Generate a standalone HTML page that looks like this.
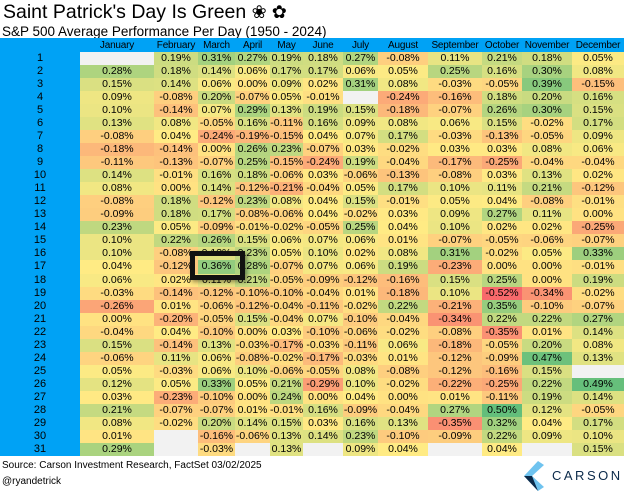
<!DOCTYPE html>
<html><head><meta charset="utf-8"><style>
body{margin:0;width:624px;height:492px;background:#fff;font-family:"Liberation Sans",Arial,sans-serif;position:relative;overflow:hidden}
.t{position:absolute;left:3px;top:1px;font-size:19.5px;color:#000;white-space:nowrap}
.s{position:absolute;left:2px;top:24px;font-size:13.5px;white-space:nowrap}
.c{position:absolute;font-size:10.5px;text-align:center;line-height:13px;height:13px;color:#000;white-space:nowrap}
.f{position:absolute;left:2px;font-size:10px;white-space:nowrap}
</style></head><body>
<div class="t">Saint Patrick's Day Is Green <span style="font-size:18px">&#10048; &#10047;</span></div>
<div class="s">S&amp;P 500 Average Performance Per Day (1950 - 2024)</div>
<div style="position:absolute;left:0;top:38px;width:624px;height:14px;background:#00a2f5"></div>
<div style="position:absolute;left:0;top:38px;width:80px;height:418px;background:#00a2f5"></div>
<div id="g"></div>
<div style="position:absolute;left:190px;top:251px;width:45px;height:19px;border:5px solid #111;box-shadow:2px 2px 4px rgba(0,0,0,.4)"></div>
<div class="f" style="top:460px">Source: Carson Investment Research, FactSet 03/02/2025</div>
<div class="f" style="top:476px">@ryandetrick</div>
<svg style="position:absolute;left:524px;top:461px" width="20" height="30"><polygon points="14,0 20,4 8,15 20,26 14,30 0,15" fill="#6fc3ef"/><polygon points="0,15 8,15 14,30" fill="#0b2a4a"/></svg>
<div style="position:absolute;left:552px;top:468px;font-size:13px;letter-spacing:2.5px;color:#0b2a4a">CARSON</div>
<script>
var M=["January","February","March","April","May","June","July","August","September","October","November","December"];
var X=[80,154,198,235,270,303,343,378,428,482,522,572,624];
var D=`;0.19;0.31;0.27;0.19;0.18;0.27;-0.08;0.11;0.21;0.18;0.05
0.28;0.18;0.14;0.06;0.17;0.17;0.06;0.05;0.25;0.16;0.30;0.08
0.15;0.14;0.06;0.00;0.09;0.02;0.31;0.08;-0.03;-0.05;0.39;-0.15
0.09;-0.08;0.20;-0.07;0.05;-0.01;;-0.24;-0.16;0.18;0.20;0.16
0.10;-0.14;0.07;0.29;0.13;0.19;0.15;-0.18;-0.07;0.26;0.30;0.15
0.13;0.08;-0.05;0.16;-0.11;0.16;0.09;0.08;0.06;0.15;-0.02;0.17
-0.08;0.04;-0.24;-0.19;-0.15;0.04;0.07;0.17;-0.03;-0.13;-0.05;0.09
-0.18;-0.14;0.00;0.26;0.23;-0.07;0.03;-0.02;0.03;0.03;0.08;0.06
-0.11;-0.13;-0.07;0.25;-0.15;-0.24;0.19;-0.04;-0.17;-0.25;-0.04;-0.04
0.14;-0.01;0.16;0.18;-0.06;0.03;-0.06;-0.13;-0.08;0.03;0.13;0.02
0.08;0.00;0.14;-0.12;-0.21;-0.04;0.05;0.17;0.10;0.11;0.21;-0.12
-0.08;0.18;-0.12;0.23;0.08;0.04;0.15;-0.01;0.05;0.04;-0.08;-0.01
-0.09;0.18;0.17;-0.08;-0.06;0.04;-0.02;0.03;0.09;0.27;0.11;0.00
0.23;0.05;-0.09;-0.01;-0.02;-0.05;0.25;0.04;0.10;0.02;0.02;-0.25
0.10;0.22;0.26;0.15;0.06;0.07;0.06;0.01;-0.07;-0.05;-0.06;-0.07
0.10;-0.08;0.13;0.23;0.05;0.10;0.02;0.08;0.31;-0.02;0.05;0.33
0.04;-0.12;0.36;0.28;-0.07;0.07;0.06;0.19;-0.23;0.00;0.00;-0.01
0.06;0.02;0.11;0.21;-0.05;-0.09;-0.12;-0.16;0.15;0.25;0.00;0.19
-0.03;-0.14;-0.12;-0.10;-0.10;-0.04;0.01;-0.18;0.10;-0.52;-0.34;-0.02
-0.26;0.01;-0.06;-0.12;-0.04;-0.11;-0.02;0.22;-0.21;0.35;-0.10;-0.07
0.00;-0.20;-0.05;0.15;-0.04;0.07;-0.10;-0.04;-0.34;0.22;0.22;0.27
-0.04;0.04;-0.10;0.00;0.03;-0.10;-0.06;-0.02;-0.08;-0.35;0.01;0.14
0.15;-0.14;0.13;-0.03;-0.17;-0.03;-0.11;0.06;-0.18;-0.05;0.20;0.08
-0.06;0.11;0.06;-0.08;-0.02;-0.17;-0.03;0.01;-0.12;-0.09;0.47;0.13
0.05;-0.03;0.06;0.10;-0.06;-0.05;0.08;-0.08;-0.12;-0.16;0.15;
0.12;0.05;0.33;0.05;0.21;-0.29;0.10;-0.02;-0.22;-0.25;0.22;0.49
0.03;-0.23;-0.10;0.00;0.24;0.00;0.04;0.00;0.01;-0.11;0.19;0.14
0.21;-0.07;-0.07;0.01;-0.01;0.16;-0.09;-0.04;0.27;0.50;0.12;-0.05
0.08;-0.02;0.20;0.14;0.15;0.03;0.16;0.13;-0.35;0.32;0.04;0.17
0.01;;-0.16;-0.06;0.13;0.14;0.23;-0.10;-0.09;0.22;0.09;0.10
0.29;;-0.03;;0.13;;0.09;0.04;;0.04;;0.15`.split("\n");
function lerp(a,b,t){return a.map((v,i)=>Math.round(v+(b[i]-v)*t));}
function col(v){var R=[248,105,107],Y=[255,235,132],G=[99,190,123],mid=0.04;
 if(v<mid)return lerp(Y,R,Math.min(1,(mid-v)/(mid+0.52)));return lerp(Y,G,Math.min(1,(v-mid)/(0.50-mid)));}
var h="";
for(var j=0;j<12;j++)h+=`<div class="c" style="left:${X[j]}px;top:39px;width:${X[j+1]-X[j]}px;font-size:10px;letter-spacing:-0.2px">${M[j]}</div>`;
var H=13.03;
for(var r=0;r<31;r++){var y=52+r*H,vals=D[r].split(";");
 h+=`<div class="c" style="left:0;top:${y}px;width:80px;font-size:11px">${r+1}</div>`;
 for(var j=0;j<12;j++){var s=vals[j],w=X[j+1]-X[j],bg;
  if(s===""||s===undefined){bg="rgb(242,242,242)";s="";}else{bg="rgb("+col(parseFloat(s)).join(",")+")";s=s+"%";}
  h+=`<div class="c" style="left:${X[j]}px;top:${y}px;width:${w}px;height:${H+0.5}px;background:${bg}">${s}</div>`;}}
document.getElementById("g").innerHTML=h;
</script>
</body></html>
